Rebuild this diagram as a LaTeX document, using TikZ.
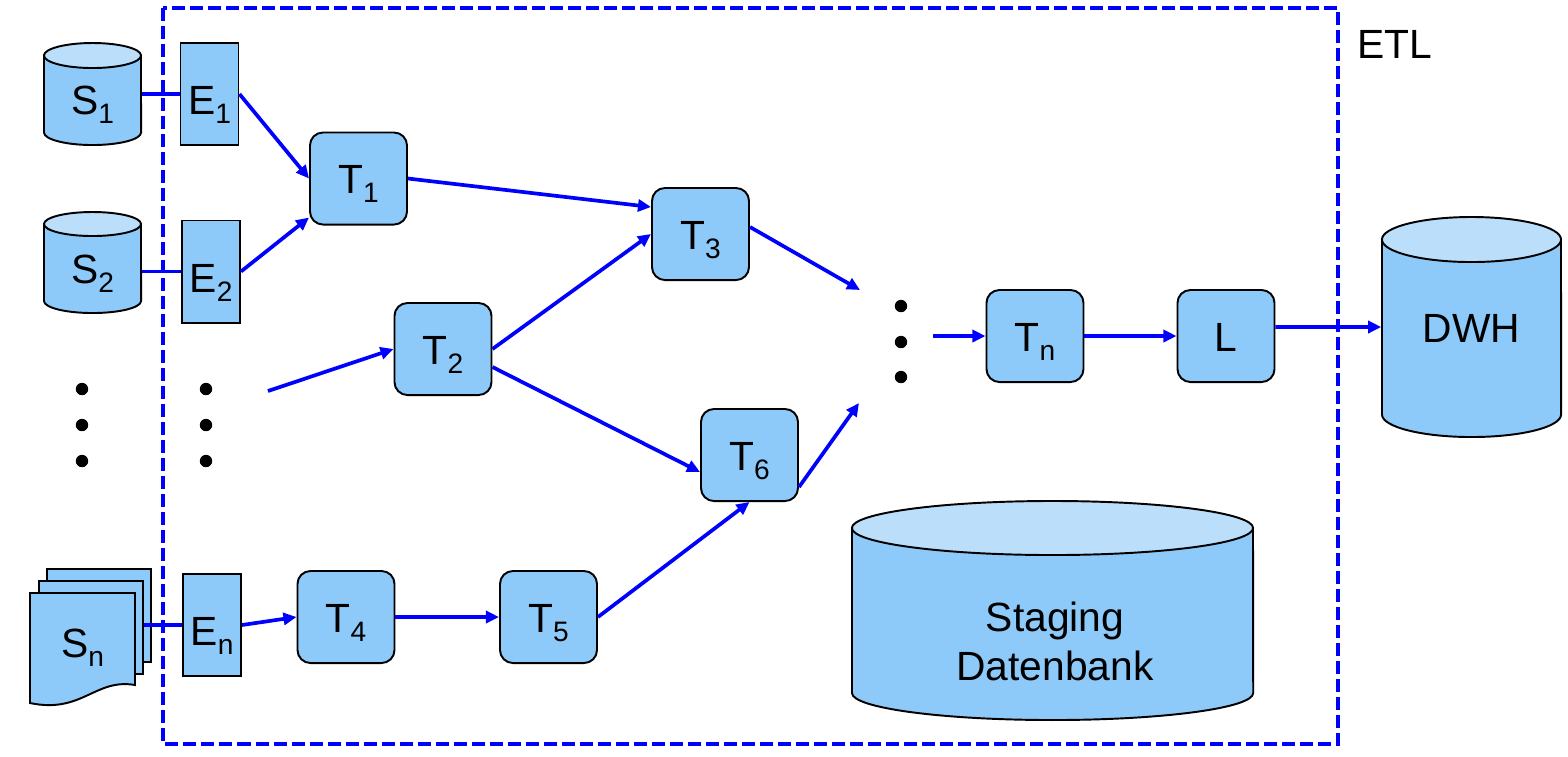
\documentclass[tikz,border=0pt]{standalone}
\usepackage{fontspec}
\setmainfont{Liberation Sans}
\usetikzlibrary{arrows.meta}
\definecolor{boxfill}{HTML}{8DCAFA}
\definecolor{topfill}{HTML}{BBDEFB}
\definecolor{linkblue}{HTML}{0000FF}
\newcommand\sbs[1]{\raisebox{-0.09cm}{\fontsize{8pt}{8pt}\selectfont #1}}
\newcommand\drawcyl[5]{%
  \pgfmathsetmacro\cylrx{(#2-#1)/200}%
  \pgfmathsetmacro\cylry{#5/100}%
  \pgfmathsetmacro\cylcx{(#1+#2)/2}%
  \filldraw[cylline, fill=boxfill] (#1,#3) -- (#1,#4) arc[start angle=180,end angle=360,x radius=\cylrx cm,y radius=\cylry cm] -- (#2,#3) -- cycle;
  \filldraw[cylline, fill=topfill] (\cylcx,#3) ellipse[x radius=\cylrx cm, y radius=\cylry cm];
}
\begin{document}
\begin{tikzpicture}[x=0.01cm, y=-0.01cm, font=\fontsize{11.6pt}{13.94pt}\selectfont,
  cylline/.style={draw=black, line width=0.55pt},
  tbox/.style={draw=black, line width=0.55pt, fill=boxfill, rounded corners=0.13cm, minimum width=0.97cm, minimum height=0.92cm, inner sep=0pt, text height=0.3cm, text depth=0cm},
  ebox/.style={draw=black, line width=0.55pt, fill=boxfill, minimum width=0.58cm, minimum height=1.02cm, inner sep=0pt, text height=0.41cm, text depth=0cm},
  cylnode/.style={inner sep=0pt, text height=0.41cm, text depth=0cm},
  sheet/.style={draw=black, line width=0.55pt, fill=boxfill, inner sep=0pt, minimum width=1.04cm, minimum height=0.93cm},
  link/.style={linkblue, line width=1.05pt},
  arrow/.style={link, -{Triangle[length=0.13cm,width=0.12cm]}},
  frame/.style={linkblue, line width=1.1pt, dash pattern=on 0.13cm off 0.05cm}
]
\useasboundingbox (0,0) rectangle (1568,756);

% ETL frame
\draw[frame] (163,8) rectangle (1338,744);
\node[inner sep=0pt, text height=0.3cm, text depth=0cm] (etl) at (1395,43.5) {ETL};

% sources
\drawcyl{44}{141}{55.5}{132.5}{12.5}
\node[cylnode, minimum width=0.97cm, minimum height=1.02cm] (s1) at (92.5,94) {S\sbs{1}};
\drawcyl{44}{141}{224}{301}{12}
\node[cylnode, minimum width=0.97cm, minimum height=1.01cm] (s2) at (92.5,262.5) {S\sbs{2}};

\node[sheet] (sn3) at (99,615.5) {};
\node[sheet] (sn2) at (91,627.5) {};
\filldraw[cylline, fill=boxfill] (30,593) -- (135,593) -- (135,685)
  .. controls (95,678) and (82,714) .. (30,703) -- cycle;
\node[inner sep=0pt, text height=0.37cm, text depth=0cm, minimum width=1.05cm, minimum height=0.92cm] (sn) at (82.5,639) {S\sbs{n}};

% dots
\foreach \yy in {389,425,461} {
  \fill (82,\yy) circle[radius=0.062cm];
  \fill (206,\yy) circle[radius=0.062cm];
}
\foreach \yy in {306,342,377} {
  \fill (901,\yy) circle[radius=0.062cm];
}

% extract
\node[ebox] (e1) at (209.5,94) {E\sbs{1}};
\node[ebox] (e2) at (211,271.5) {E\sbs{2}};
\node[ebox] (en) at (212,625) {E\sbs{n}};

% transforms
\node[tbox] (t1) at (358.5,178.5) {T\sbs{1}};
\node[tbox] (t3) at (700.5,234) {T\sbs{3}};
\node[tbox] (t2) at (443,349) {T\sbs{2}};
\node[tbox] (t6) at (749.5,455) {T\sbs{6}};
\node[tbox] (t4) at (346,617) {T\sbs{4}};
\node[tbox] (t5) at (548.5,617) {T\sbs{5}};
\node[tbox] (tn) at (1035,336) {T\sbs{n}};
\node[tbox] (l) at (1226,336) {L};

% databases
\drawcyl{1382}{1561}{239.5}{414.5}{22.5}
\node[inner sep=0pt, text height=0.3cm, text depth=0cm, minimum width=1.79cm, minimum height=2.2cm] (dwh) at (1471.5,327) {DWH};
\drawcyl{852}{1253}{528}{693}{27}
\node[inner sep=0pt, align=center] (stage) at (1055,641) {Staging\\Datenbank};

% free ends
\coordinate (in2) at (268,391);
\coordinate (d1) at (860,290);
\coordinate (d2) at (859,403);
\coordinate (dout) at (933,336);

% connectors
\draw[link] (s1.east) -- (e1.west);
\draw[link] (s2.east |- e2.west) -- (e2.west);
\draw[link] (sn2.east |- en.west) -- (en.west);
\draw[arrow] (e1.east) -- (t1.west);
\draw[arrow] (e2.east) -- ([yshift=0.08cm]t1.south west);
\draw[arrow] (en.east) -- (t4.west);
\draw[arrow] (t1.east) -- ([yshift=0.27cm]t3.west);
\draw[arrow] (t2.east) -- (t3.west);
\draw[arrow] (in2) -- (t2.west);
\draw[arrow] ([yshift=-0.18cm]t2.east) -- ([yshift=-0.17cm]t6.west);
\draw[arrow] ([yshift=0.07cm]t3.east) -- (d1);
\draw[arrow] ([yshift=-0.32cm]t6.east) -- (d2);
\draw[arrow] (t4.east) -- (t5.west);
\draw[arrow] (t5.east) -- (t6.south);
\draw[arrow] (dout) -- (tn.west);
\draw[arrow] (tn.east) -- (l.west);
\draw[arrow] ([yshift=0.09cm]l.east) -- (dwh.west);
\end{tikzpicture}
\end{document}
